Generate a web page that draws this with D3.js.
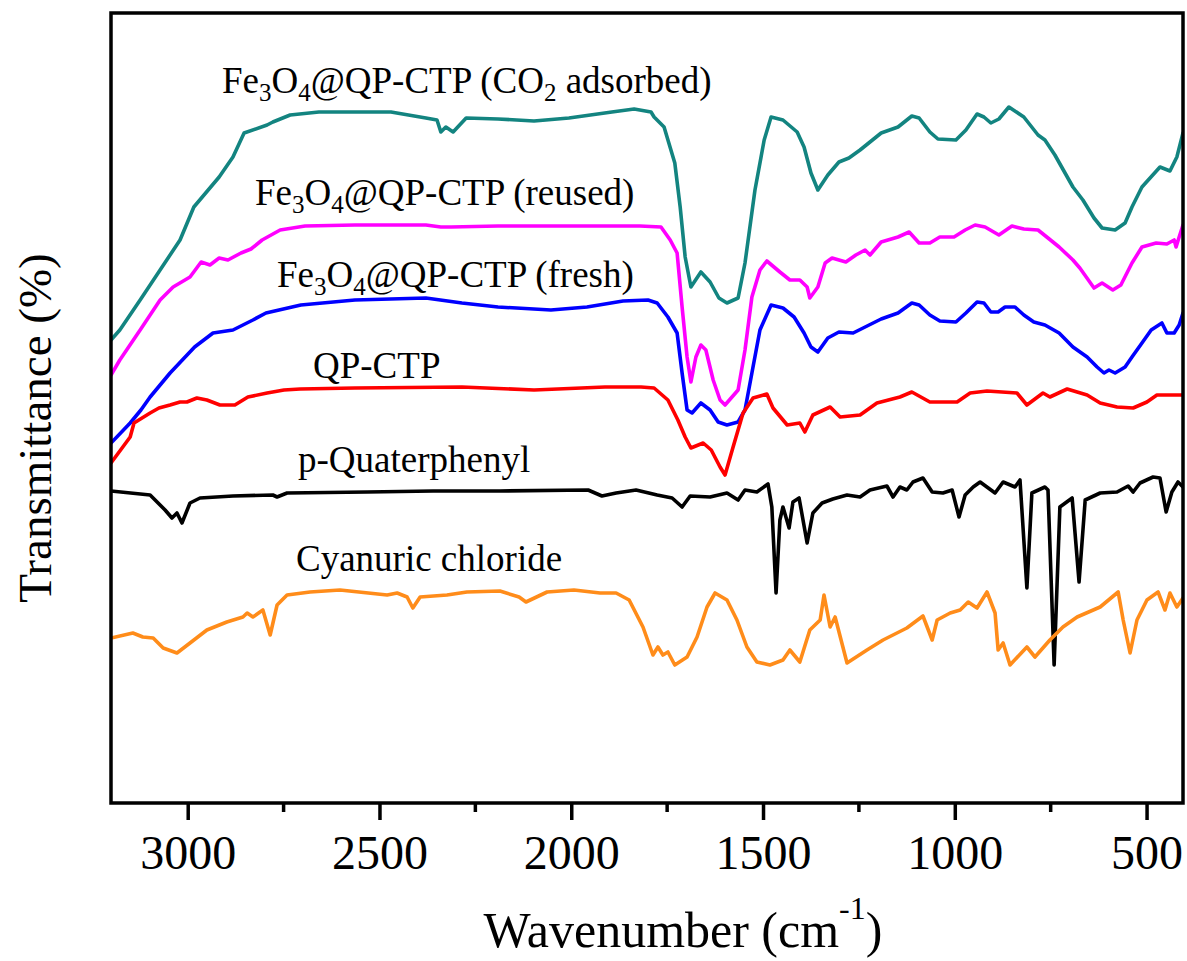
<!DOCTYPE html>
<html>
<head>
<meta charset="utf-8">
<script src="https://cdn.jsdelivr.net/npm/d3@7"></script>
<style>
  body { margin: 0; background: #fff; }
  svg text { font-family: "Liberation Serif", "Times New Roman", serif; fill: #000; }
</style>
</head>
<body>
<div id="chart"></div>
<script>
// FTIR spectra, values are [wavenumber (cm-1), transmittance offset (a.u.)]
var co2Adsorbed = [[3200,463],[3177,473],[3124,503],[3072,533],[3020,563],[2984,596],[2918,626],[2882,646],[2853,670],[2793,678],[2778,681],[2733,688],[2658,691],[2470,691],[2379,685],[2350,683],[2340,671],[2327,676],[2308,671],[2274,685],[2191,684],[2097,682],[2006,685],[1894,691],[1836,694],[1792,691],[1784,686],[1758,676],[1730,640],[1716,596],[1703,546],[1688,516],[1662,531],[1638,521],[1615,505],[1594,500],[1565,505],[1547,540],[1521,613],[1497,663],[1479,686],[1448,683],[1411,671],[1393,656],[1375,630],[1357,613],[1331,628],[1302,641],[1276,645],[1247,653],[1192,670],[1148,676],[1112,687],[1093,685],[1065,671],[1044,664],[997,663],[971,673],[942,689],[924,686],[906,680],[885,684],[859,696],[820,686],[783,668],[765,663],[739,648],[692,616],[666,603],[637,585],[616,575],[582,573],[556,580],[538,596],[512,616],[465,636],[439,632],[421,646],[405,670]];

var reused = [[3200,428],[3177,443],[3124,473],[3072,503],[3038,516],[2994,526],[2965,541],[2942,538],[2918,545],[2895,543],[2861,550],[2835,554],[2806,563],[2759,573],[2694,577],[2564,578],[2379,578],[2340,576],[2313,576],[2191,577],[2006,577],[1821,577],[1766,576],[1742,563],[1724,550],[1711,496],[1698,446],[1688,421],[1675,446],[1662,458],[1649,453],[1630,423],[1612,403],[1599,398],[1565,413],[1547,453],[1529,506],[1508,533],[1490,542],[1456,531],[1430,523],[1404,523],[1385,516],[1378,505],[1357,516],[1338,540],[1320,545],[1284,541],[1258,548],[1234,553],[1221,548],[1192,561],[1148,566],[1119,571],[1093,560],[1065,560],[1039,566],[1002,566],[973,573],[947,578],[921,576],[885,568],[851,577],[820,574],[783,573],[757,565],[728,556],[692,543],[674,535],[637,515],[616,520],[588,513],[567,518],[538,540],[512,556],[475,560],[447,559],[428,563],[423,556],[415,566],[405,578]];

var fresh = [[3200,360],[3150,380],[3122,393],[3098,406],[3046,430],[2982,456],[2934,470],[2882,473],[2830,483],[2796,490],[2705,498],[2564,503],[2379,505],[2285,500],[2191,496],[2053,493],[1959,496],[1865,502],[1800,503],[1776,500],[1748,486],[1724,470],[1711,430],[1698,393],[1685,390],[1662,400],[1638,393],[1617,381],[1594,378],[1565,381],[1547,393],[1529,430],[1508,473],[1479,498],[1448,495],[1419,486],[1393,470],[1375,456],[1357,451],[1331,465],[1302,471],[1265,470],[1239,475],[1192,484],[1148,490],[1112,500],[1093,498],[1065,488],[1039,482],[997,481],[971,490],[942,501],[924,500],[906,491],[887,491],[869,496],[843,496],[820,488],[794,481],[765,478],[728,470],[692,456],[655,446],[629,436],[611,430],[598,433],[582,430],[556,436],[538,446],[512,460],[488,473],[460,480],[447,470],[428,470],[415,478],[405,490]];

var qpCtp = [[3200,340],[3150,366],[3140,380],[3098,390],[3075,395],[3046,398],[3020,401],[3002,401],[2976,405],[2950,403],[2916,398],[2877,398],[2843,406],[2793,410],[2749,413],[2707,414],[2564,415],[2285,416],[2097,413],[1912,416],[1818,416],[1784,415],[1748,403],[1722,383],[1703,366],[1688,355],[1656,360],[1635,353],[1612,336],[1599,328],[1578,356],[1552,390],[1526,405],[1490,409],[1474,395],[1437,378],[1404,380],[1391,371],[1370,388],[1325,396],[1299,386],[1247,388],[1203,400],[1143,406],[1112,411],[1065,401],[994,401],[960,410],[916,412],[838,410],[812,398],[770,410],[752,406],[707,414],[655,408],[621,400],[577,396],[535,395],[499,401],[473,408],[439,408],[405,408]];

var quaterphenyl = [[3200,312],[3098,308],[3059,293],[3041,285],[3028,290],[3015,280],[2994,300],[2968,305],[2882,307],[2778,308],[2767,306],[2741,310],[2532,311],[2360,312],[2186,312],[1956,313],[1920,307],[1883,310],[1831,313],[1776,308],[1737,305],[1711,296],[1690,307],[1638,306],[1594,310],[1565,303],[1547,313],[1516,311],[1487,319],[1477,296],[1466,210],[1456,283],[1448,296],[1432,275],[1422,301],[1406,305],[1385,260],[1370,290],[1346,300],[1318,304],[1281,308],[1247,306],[1221,313],[1177,317],[1161,306],[1143,316],[1125,313],[1109,321],[1083,325],[1059,311],[1031,310],[1007,313],[989,286],[973,308],[952,316],[934,321],[895,310],[874,321],[843,316],[830,323],[812,215],[799,310],[765,316],[757,313],[741,138],[726,296],[694,305],[676,221],[660,303],[621,310],[577,311],[548,317],[535,311],[517,320],[483,326],[465,325],[449,291],[434,311],[418,321],[405,316]];

var cyanuric = [[3200,165],[3143,170],[3117,166],[3090,165],[3064,155],[3028,150],[2994,160],[2950,173],[2898,181],[2856,186],[2845,190],[2830,186],[2804,193],[2785,168],[2767,198],[2741,208],[2681,211],[2603,213],[2480,208],[2454,210],[2428,206],[2413,195],[2394,206],[2324,208],[2272,211],[2186,212],[2136,206],[2118,201],[2063,211],[1993,213],[1925,210],[1883,210],[1849,203],[1813,176],[1787,148],[1774,156],[1761,148],[1748,151],[1730,138],[1698,146],[1672,166],[1646,196],[1625,210],[1594,203],[1568,183],[1542,156],[1516,141],[1482,138],[1448,143],[1430,153],[1404,141],[1378,173],[1351,183],[1341,208],[1325,176],[1312,186],[1281,140],[1229,153],[1187,163],[1125,175],[1083,187],[1059,163],[1046,183],[1012,190],[986,193],[965,201],[942,195],[916,211],[895,190],[887,153],[874,160],[856,138],[812,156],[791,146],[752,163],[718,176],[681,186],[621,196],[574,211],[561,183],[543,150],[525,183],[499,203],[470,211],[452,193],[439,210],[421,196],[405,205]];

var seriesData = [co2Adsorbed, reused, fresh, qpCtp, quaterphenyl, cyanuric];
var seriesColors = ['#138480', '#ff00ff', '#0000ff', '#ff0000', '#000000', '#ff8c1a'];

var majorTicks = [3000, 2500, 2000, 1500, 1000, 500];
var minorTicks = [2750, 2250, 1750, 1250, 750];

// label pieces: [text, kind] kind = n normal, s subscript
var labels = [
  [['Fe','n'],['3','s'],['O','n'],['4','s'],['@QP-CTP (CO','n'],['2','s'],[' adsorbed)','n']],
  [['Fe','n'],['3','s'],['O','n'],['4','s'],['@QP-CTP (reused)','n']],
  [['Fe','n'],['3','s'],['O','n'],['4','s'],['@QP-CTP (fresh)','n']],
  [['QP-CTP','n']],
  [['p-Quaterphenyl','n']],
  [['Cyanuric chloride','n']]
];
var labelPos = [[222, 93], [255, 205], [277, 287], [313, 378], [298, 472], [296, 571]];

var serif = 'Liberation Serif';
var W = 1187, H = 961;
var margin = {top: 13, right: 4, bottom: 158, left: 111};
var width = W - margin.left - margin.right,
    height = H - margin.top - margin.bottom;

var svg = d3.select('#chart').append('svg')
    .attr('width', W)
    .attr('height', H);

var x = d3.scaleLinear().domain([3200, 405]).range([margin.left, margin.left + width]);
var y = d3.scaleLinear().domain([0, 790]).range([margin.top + height, margin.top]);

svg.append('clipPath').attr('id', 'plotclip')
  .append('rect')
    .attr('x', margin.left).attr('y', margin.top)
    .attr('width', width).attr('height', height);

var line = d3.line()
    .x(function(d) { return x(d[0]); })
    .y(function(d) { return y(d[1]); });

svg.append('g').attr('clip-path', 'url(#plotclip)')
  .selectAll('path')
    .data(seriesData)
  .enter().append('path')
    .attr('d', line)
    .attr('fill', 'none')
    .attr('stroke', function(d, i) { return seriesColors[i]; })
    .attr('stroke-width', 3.6)
    .attr('stroke-linejoin', 'round')
    .attr('stroke-linecap', 'round');

// frame
svg.append('rect')
    .attr('x', margin.left).attr('y', margin.top)
    .attr('width', width).attr('height', height)
    .attr('fill', 'none').attr('stroke', '#000').attr('stroke-width', 3.5);

// bottom axis
var xAxis = d3.axisBottom(x)
    .tickValues(majorTicks)
    .tickFormat(d3.format('d'))
    .tickSize(17).tickSizeOuter(0).tickPadding(2);
var gx = svg.append('g')
    .attr('transform', 'translate(0,' + (margin.top + height) + ')')
    .call(xAxis)
    .attr('font-family', serif)
    .attr('font-size', 48);
gx.select('.domain').remove();
gx.selectAll('.tick line').attr('stroke', '#000').attr('stroke-width', 3.5);
gx.selectAll('.tick text')
    .attr('font-family', serif)
    .style('font-family', serif)
    .style('font-size', '48px')
    .attr('dy', '0.97em');

svg.append('g')
  .selectAll('line')
    .data(minorTicks)
  .enter().append('line')
    .attr('x1', function(d) { return x(d); })
    .attr('x2', function(d) { return x(d); })
    .attr('y1', margin.top + height)
    .attr('y2', margin.top + height + 9)
    .attr('stroke', '#000').attr('stroke-width', 3.5);

// curve labels
labels.forEach(function(parts, i) {
  var t = svg.append('text')
      .attr('x', labelPos[i][0])
      .attr('y', labelPos[i][1])
      .attr('font-size', 37);
  var shift = 0;
  parts.forEach(function(p) {
    var ts = t.append('tspan').text(p[0]);
    if (p[1] == 's') {
      ts.attr('font-size', 25).attr('dy', 8 - shift);
      shift = 8;
    } else {
      ts.attr('dy', -shift);
      shift = 0;
    }
  });
});

// axis titles
var xt = svg.append('text')
    .attr('x', 683)
    .attr('y', 947)
    .attr('text-anchor', 'middle')
    .attr('font-size', 50);
xt.append('tspan').text('Wavenumber (cm');
xt.append('tspan').text('-1').attr('font-size', 32).attr('dy', -28);
xt.append('tspan').text(')').attr('dy', 28);

svg.append('text')
    .attr('transform', 'translate(51,428) rotate(-90)')
    .attr('text-anchor', 'middle')
    .attr('font-size', 47)
    .text('Transmittance (%)');
</script>
</body>
</html>
